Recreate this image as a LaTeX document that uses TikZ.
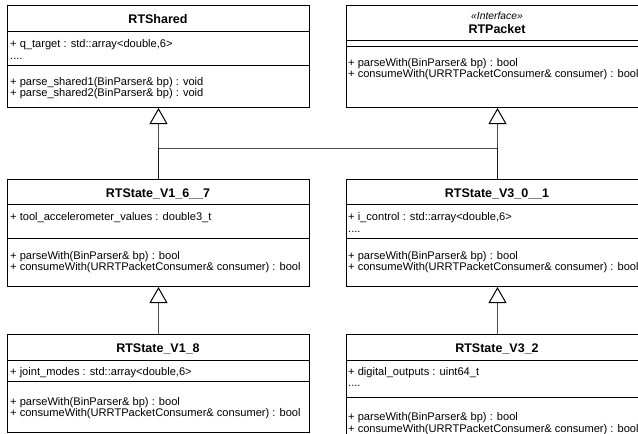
\documentclass[tikz,border=0pt]{standalone}
\usepackage{fontspec}
\setmainfont{Liberation Sans}
\usetikzlibrary{arrows.meta}
\tikzset{
  cls/.style={draw=black, line width=1pt, fill=white, rectangle, inner sep=0pt,
              anchor=north west, minimum width=302pt},
  sep/.style={draw=black, line width=0.9pt},
  mem/.style={anchor=base west, inner sep=0pt, font=\fontsize{11.1}{13}\selectfont},
  ttl/.style={anchor=base, inner sep=0pt, font=\fontsize{12.5}{14}\selectfont\bfseries},
  stereo/.style={anchor=base, inner sep=0pt, font=\fontsize{10.3}{12}\selectfont\itshape},
  inh/.style={draw=black!70, line width=1pt,
              -{Triangle[open, length=16pt, width=18pt, color=black, line width=1pt]}},
  conn/.style={draw=black!70, line width=1pt},
  shared/.style={draw=black!90, line width=1pt},
}
\begin{document}
\begin{tikzpicture}[x=1pt,y=-1pt]
\useasboundingbox (0,0) rectangle (638,434);
\clip (0,0) rectangle (638,434);
\fill[white] (0,0) rectangle (638,434);

% ---- RTShared
\node[cls, minimum height=102pt] (rts) at (7,5) {};
\draw[sep] (rts.west |- 0,31) -- (rts.east |- 0,31);
\draw[sep] (rts.west |- 0,65) -- (rts.east |- 0,65);
\node[ttl] (rtsT) at (158,23) {RTShared};
\node[mem] (rtsA1) at (10,47) {+ q\_target : std::array<double,6>};
\node[mem] (rtsA2) at (10,59) {....};
\node[mem] (rtsO1) at (10,85) {+ parse\_shared1(BinParser\& bp) : void};
\node[mem] (rtsO2) at (10,96.5) {+ parse\_shared2(BinParser\& bp) : void};

% ---- RTPacket (interface)
\node[cls, minimum height=102pt] (rtp) at (346,5) {};
\draw[sep] (rtp.west |- 0,40) -- (rtp.east |- 0,40);
\draw[sep] (rtp.west |- 0,46) -- (rtp.east |- 0,46);
\node[stereo] (rtpS) at (497,19) {<<Interface>>};
\node[ttl] (rtpT) at (497,33) {RTPacket};
\node[mem] (rtpO1) at (348,66) {+ parseWith(BinParser\& bp) : bool};
\node[mem] (rtpO2) at (348,77.5) {+ consumeWith(URRTPacketConsumer\& consumer) : bool};

% ---- RTState_V1_6__7
\node[cls, minimum height=107pt] (v16) at (7,179) {};
\draw[sep] (v16.west |- 0,204) -- (v16.east |- 0,204);
\draw[sep] (v16.west |- 0,238) -- (v16.east |- 0,238);
\node[ttl] (v16T) at (158,197) {RTState\_V1\_6\_\_7};
\node[mem] (v16A1) at (10,220) {+ tool\_accelerometer\_values : double3\_t};
\node[mem] (v16O1) at (10,259) {+ parseWith(BinParser\& bp) : bool};
\node[mem] (v16O2) at (10,270.5) {+ consumeWith(URRTPacketConsumer\& consumer) : bool};

% ---- RTState_V3_0__1
\node[cls, minimum height=107pt] (v30) at (346,179) {};
\draw[sep] (v30.west |- 0,204) -- (v30.east |- 0,204);
\draw[sep] (v30.west |- 0,238) -- (v30.east |- 0,238);
\node[ttl] (v30T) at (497,197) {RTState\_V3\_0\_\_1};
\node[mem] (v30A1) at (348,220) {+ i\_control : std::array<double,6>};
\node[mem] (v30A2) at (348,232) {....};
\node[mem] (v30O1) at (348,259) {+ parseWith(BinParser\& bp) : bool};
\node[mem] (v30O2) at (348,270.5) {+ consumeWith(URRTPacketConsumer\& consumer) : bool};

% ---- RTState_V1_8
\node[cls, minimum height=98pt] (v18) at (7,334) {};
\draw[sep] (v18.west |- 0,360) -- (v18.east |- 0,360);
\draw[sep] (v18.west |- 0,381) -- (v18.east |- 0,381);
\node[ttl] (v18T) at (158,352) {RTState\_V1\_8};
\node[mem] (v18A1) at (10,375) {+ joint\_modes : std::array<double,6>};
\node[mem] (v18O1) at (10,405) {+ parseWith(BinParser\& bp) : bool};
\node[mem] (v18O2) at (10,416.5) {+ consumeWith(URRTPacketConsumer\& consumer) : bool};

% ---- RTState_V3_2
\node[cls, minimum height=111pt] (v32) at (346,334) {};
\draw[sep] (v32.west |- 0,360) -- (v32.east |- 0,360);
\draw[sep] (v32.west |- 0,397) -- (v32.east |- 0,397);
\node[ttl] (v32T) at (497,352) {RTState\_V3\_2};
\node[mem] (v32A1) at (348,375) {+ digital\_outputs : uint64\_t};
\node[mem] (v32A2) at (348,386.5) {....};
\node[mem] (v32O1) at (348,420.5) {+ parseWith(BinParser\& bp) : bool};
\node[mem] (v32O2) at (348,432) {+ consumeWith(URRTPacketConsumer\& consumer) : bool};

% ---- generalisations: both V1_6__7 and V3_0__1 extend RTShared and RTPacket
\coordinate (joinY) at (0,148);
\draw[conn] (v16.north |- joinY) -- (v30.north |- joinY);
\draw[inh] (v16.north) -- (rts.south);
\draw[inh] (v30.north) -- (rtp.south);
\draw[shared] (v16.north) -- (v16.north |- joinY);
\draw[shared] (v30.north) -- (v30.north |- joinY);
\draw[inh] (v18.north) -- (v16.south);
\draw[inh] (v32.north) -- (v30.south);
\end{tikzpicture}
\end{document}
